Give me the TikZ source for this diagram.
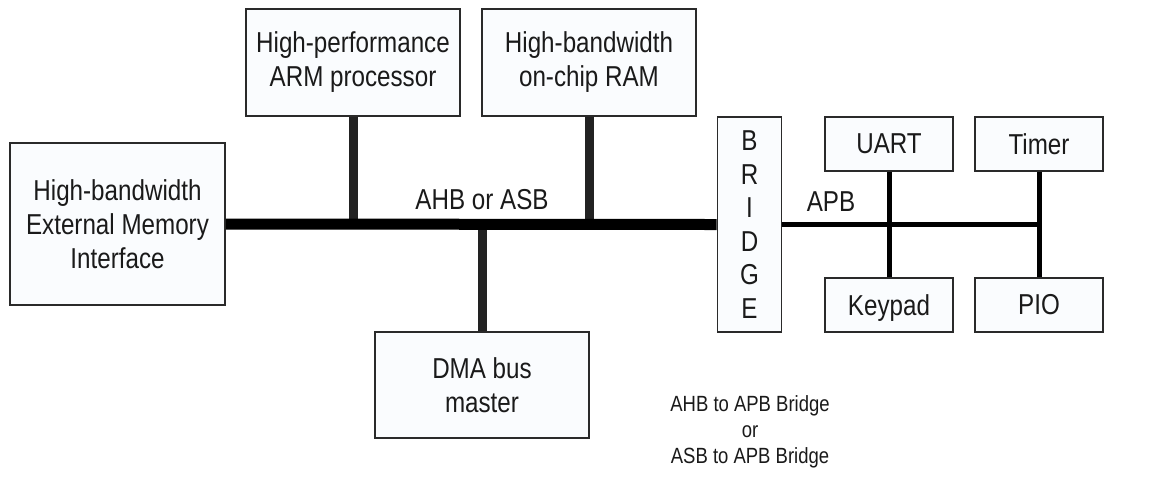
\documentclass[tikz,border=0pt]{standalone}
\usepackage{fontspec}
\setmainfont{Liberation Sans}[FakeStretch=0.84]
\definecolor{boxfill}{HTML}{FAFCFE}
\definecolor{boxline}{HTML}{2A2A2A}
\definecolor{txt}{HTML}{1A1A1A}
\definecolor{stub}{HTML}{222222}
\tikzset{
  blk/.style={draw=boxline, fill=boxfill, line width=0.8pt, inner sep=0pt, align=center,
    text=txt, font=\fontsize{14.4}{17}\selectfont},
  ahb/.style={line width=5.5pt, black},
  ahbstub/.style={line width=4.5pt, stub},
  apb/.style={line width=2.5pt, black},
  lbl/.style={inner sep=0pt, text=txt, font=\fontsize{14.4}{17}\selectfont},
  note/.style={inner sep=0pt, align=center, text=txt, font=\fontsize{11}{13}\selectfont},
}
\begin{document}
\begin{tikzpicture}[x=0.5pt,y=-0.5pt]
\useasboundingbox[fill=white] (0,0) rectangle (1149,500);
\node[blk, minimum width=107.5pt, minimum height=81pt] (ext) at (117.5,224) {High-bandwidth\\External Memory\\Interface};
\node[blk, minimum width=107pt, minimum height=53.5pt] (arm) at (353,62.5) {High-performance\\ARM processor};
\node[blk, minimum width=107pt, minimum height=53.5pt] (ram) at (589,62.5) {High-bandwidth\\on-chip RAM};
\node[blk, minimum width=107pt, minimum height=53pt] (dma) at (482,385) {DMA bus\\master};
\node[blk, minimum width=32pt, minimum height=107.5pt, font=\fontsize{14.4}{16.8}\selectfont] (bridge) at (749.5,224.5) {B\\R\\I\\D\\G\\E};
\node[blk, minimum width=64pt, minimum height=27pt] (uart) at (889,144) {UART};
\node[blk, minimum width=64pt, minimum height=27pt] (timer) at (1039,144) {Timer};
\node[blk, minimum width=64pt, minimum height=27pt] (keypad) at (889,305) {\raisebox{0pt}[\height][0pt]{Keypad}};
\node[blk, minimum width=64pt, minimum height=27pt] (pio) at (1039,305) {PIO};

\coordinate (apbend) at (timer.south |- bridge.east);

\draw[ahbstub] (arm.south) -- (arm.south |- ext.east);
\draw[ahbstub] (ram.south) -- (ram.south |- ext.east);
\draw[ahbstub] (dma.north) -- (dma.north |- ext.east);
\draw[ahb] (ext.east) -- (bridge.west);

\draw[apb] (bridge.east) -- (apbend);
\draw[apb] (uart.south) -- (keypad.north);
\draw[apb] (timer.south) -- (pio.north);

\node[lbl] (ahblbl) at (482,200) {AHB or ASB};
\node[lbl] (apblbl) at (831,202) {APB};
\node[note] (bridgenote) at (750,432) {AHB to APB Bridge\\or\\ASB to APB Bridge};
\end{tikzpicture}
\end{document}
